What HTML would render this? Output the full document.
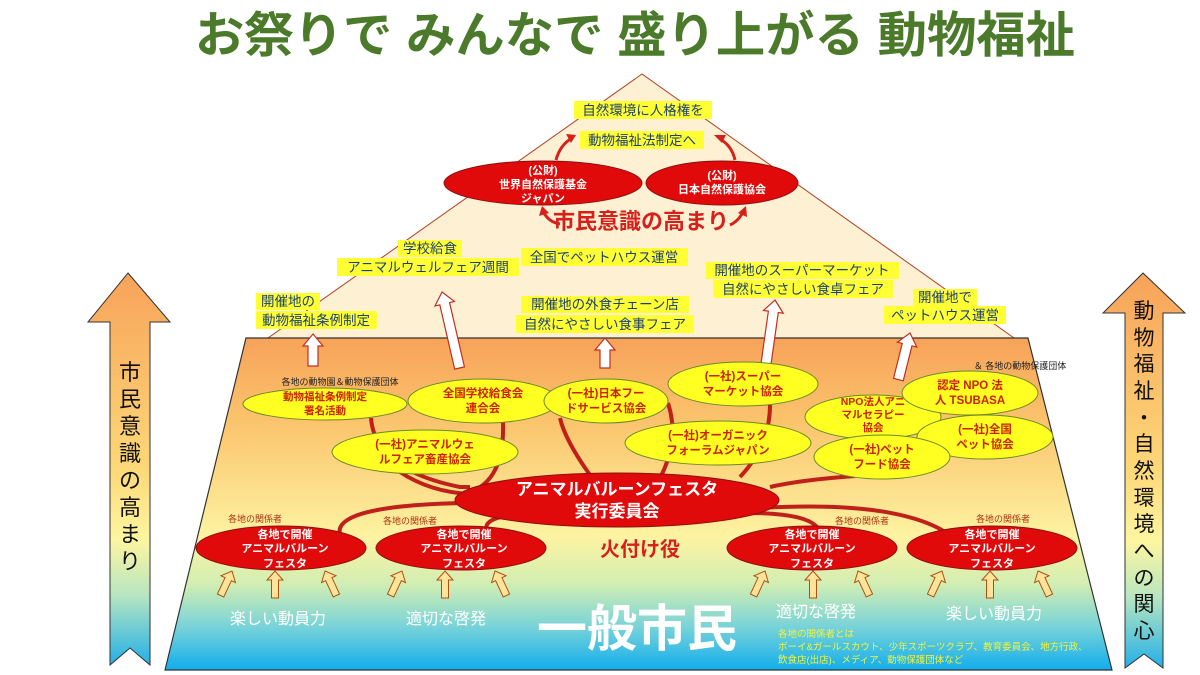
<!DOCTYPE html>
<html><head><meta charset="utf-8"><style>
html,body{margin:0;padding:0;background:#fff;}
svg{display:block;font-family:"Liberation Sans","Noto Sans CJK JP",sans-serif;}
.hl{fill:#ffff33;}
.bt{fill:#1c3f78;font-size:13.5px;}
.yt{fill:#cc2200;font-size:11.5px;font-weight:bold;}
.wt{fill:#fff;font-size:11px;font-weight:bold;}
.sm{fill:#222;font-size:9px;}
.sr{fill:#aa3311;font-size:9px;}
</style></head><body>
<svg width="1200" height="675" viewBox="0 0 1200 675" xmlns="http://www.w3.org/2000/svg">
<defs>
<linearGradient id="tg" x1="0" y1="338" x2="0" y2="670" gradientUnits="userSpaceOnUse">
<stop offset="0" stop-color="#f7a25a"/><stop offset="0.25" stop-color="#fbc36c"/>
<stop offset="0.6" stop-color="#fdf3a2"/><stop offset="0.74" stop-color="#d2eeb2"/>
<stop offset="0.87" stop-color="#78d3d8"/><stop offset="1" stop-color="#12aded"/></linearGradient>
<linearGradient id="ag" x1="0" y1="0" x2="0" y2="1">
<stop offset="0" stop-color="#f7a25a"/><stop offset="0.5" stop-color="#fdd878"/>
<stop offset="0.68" stop-color="#fdf6a0"/><stop offset="0.82" stop-color="#b8e6c0"/>
<stop offset="1" stop-color="#22b0e8"/></linearGradient>
</defs>
<text x="635" y="52" text-anchor="middle" font-size="49" font-weight="bold" fill="#4b7a2b" textLength="880" lengthAdjust="spacingAndGlyphs">お祭りで みんなで 盛り上がる 動物福祉</text>

<!-- triangle -->
<path d="M642,74 L268,338 L1014,338 Z" fill="#fdf0d3" stroke="#b04020" stroke-width="1"/>
<!-- trapezoid -->
<path d="M246,338 L1028,338 L1112,670 L165,670 Z" fill="url(#tg)" stroke="#333" stroke-width="1.2"/>

<!-- side arrows -->
<path d="M128,273 L170,322 L150,322 L150,665 L130,648 L110,665 L110,322 L88,322 Z" fill="url(#ag)" stroke="#333" stroke-width="1"/>
<g font-size="22" fill="#111" text-anchor="middle">
<text x="130" y="380">市</text><text x="130" y="407">民</text><text x="130" y="434">意</text><text x="130" y="461">識</text><text x="130" y="488">の</text><text x="130" y="515">高</text><text x="130" y="542">ま</text><text x="130" y="569">り</text>
</g>
<path d="M1143,273 L1185,313 L1163,313 L1163,668 L1144,654 L1125,668 L1125,313 L1103,313 Z" fill="url(#ag)" stroke="#333" stroke-width="1"/>
<g font-size="21" fill="#111" text-anchor="middle">
<text x="1144" y="318">動</text><text x="1144" y="345">物</text><text x="1144" y="371">福</text><text x="1144" y="398">祉</text><text x="1144" y="425">・</text><text x="1144" y="451">自</text><text x="1144" y="478">然</text><text x="1144" y="505">環</text><text x="1144" y="531">境</text><text x="1144" y="558">へ</text><text x="1144" y="585">の</text><text x="1144" y="611">関</text><text x="1144" y="638">心</text>
</g>

<!-- top labels -->
<rect x="574" y="101" width="138" height="18" class="hl"/>
<text x="643" y="115" class="bt" text-anchor="middle">自然環境に人格権を</text>
<rect x="580" y="131" width="124" height="18" class="hl"/>
<text x="642" y="145" class="bt" text-anchor="middle">動物福祉法制定へ</text>
<path d="M556,160 Q560,145 572,138" fill="none" stroke="#d8201a" stroke-width="3"/><path d="M566,134 L576,135 L571,143 Z" fill="#d8201a"/>
<path d="M735,160 Q732,146 720,139" fill="none" stroke="#d8201a" stroke-width="3"/><path d="M714,135 L726,135 L722,143 Z" fill="#d8201a"/>
<ellipse cx="543" cy="183" rx="99" ry="22" fill="#e00a0a" stroke="#8a1010" stroke-width="1"/>
<text x="543" y="174" class="wt" text-anchor="middle">(公財)</text>
<text x="543" y="188" class="wt" text-anchor="middle">世界自然保護基金</text>
<text x="543" y="202" class="wt" text-anchor="middle">ジャパン</text>
<ellipse cx="722" cy="183" rx="76" ry="22" fill="#e00a0a" stroke="#8a1010" stroke-width="1"/>
<text x="722" y="179" class="wt" text-anchor="middle">(公財)</text>
<text x="722" y="193" class="wt" text-anchor="middle">日本自然保護協会</text>
<text x="641" y="229" font-size="22" font-weight="bold" fill="#d8201a" text-anchor="middle">市民意識の高まり</text>
<path d="M543,211 Q548,222 560,224" fill="none" stroke="#d8201a" stroke-width="3"/><path d="M539,216 L542,206 L549,213 Z" fill="#d8201a"/>
<path d="M730,225 Q737,222 742,214" fill="none" stroke="#d8201a" stroke-width="3"/><path d="M738,213 L746,206 L747,217 Z" fill="#d8201a"/>

<rect x="398" y="240" width="64" height="17" class="hl"/>
<text x="430" y="253" class="bt" text-anchor="middle">学校給食</text>
<rect x="337" y="258" width="182" height="18" class="hl"/>
<text x="428" y="272" class="bt" text-anchor="middle">アニマルウェルフェア週間</text>
<rect x="521" y="248" width="167" height="18" class="hl"/>
<text x="604" y="262" class="bt" text-anchor="middle">全国でペットハウス運営</text>
<rect x="256" y="293" width="64" height="17" class="hl"/>
<text x="288" y="306" class="bt" text-anchor="middle">開催地の</text>
<rect x="256" y="311" width="121" height="18" class="hl"/>
<text x="316" y="325" class="bt" text-anchor="middle">動物福祉条例制定</text>
<rect x="521" y="296" width="168" height="17" class="hl"/>
<text x="605" y="309" class="bt" text-anchor="middle">開催地の外食チェーン店</text>
<rect x="516" y="315" width="178" height="18" class="hl"/>
<text x="605" y="329" class="bt" text-anchor="middle">自然にやさしい食事フェア</text>
<rect x="706" y="262" width="193" height="17" class="hl"/>
<text x="802" y="275" class="bt" text-anchor="middle">開催地のスーパーマーケット</text>
<rect x="713" y="280" width="180" height="18" class="hl"/>
<text x="803" y="294" class="bt" text-anchor="middle">自然にやさしい食卓フェア</text>
<rect x="913" y="289" width="64" height="17" class="hl"/>
<text x="945" y="302" class="bt" text-anchor="middle">開催地で</text>
<rect x="884" y="306" width="122" height="18" class="hl"/>
<text x="945" y="320" class="bt" text-anchor="middle">ペットハウス運営</text>

<!-- white arrows -->
<g fill="#fff" stroke="#c03020" stroke-width="1.2">
<path transform="translate(313,334)" d="M0,0 L10,12 L5,12 L5,32 L-5,32 L-5,12 L-10,12 Z"/>
<path transform="translate(442,292) rotate(-13)" d="M0,0 L10,12 L5,12 L5,78 L-5,78 L-5,12 L-10,12 Z"/>
<path transform="translate(605,338)" d="M0,0 L10,12 L5,12 L5,30 L-5,30 L-5,12 L-10,12 Z"/>
<path transform="translate(775,300) rotate(8)" d="M0,0 L10,12 L5,12 L5,68 L-5,68 L-5,12 L-10,12 Z"/>
<path transform="translate(910,333) rotate(14)" d="M0,0 L10,12 L5,12 L5,48 L-5,48 L-5,12 L-10,12 Z"/>
</g>

<!-- connectors -->
<g fill="none" stroke="#c0201a" stroke-width="4">
<path d="M371,418 Q375,470 460,487 L470,487"/>
<path d="M503,422 Q505,480 470,492 Q490,492 515,490"/>
<path d="M400,472 Q430,492 470,494"/>
<path d="M560,418 Q565,440 590,475"/>
<path d="M668,403 Q680,440 660,478"/>
<path d="M770,405 Q770,445 740,477"/>
<path d="M855,476 Q800,480 770,487"/>
<path d="M760,508 Q900,500 950,535"/>
<path d="M520,503 Q330,500 340,535"/>
<path d="M560,513 Q470,512 490,535"/>
<path d="M740,513 Q820,512 820,535"/>
</g>

<!-- yellow ellipses -->
<g fill="#ffff22" stroke="#6a8a2a" stroke-width="1">
<ellipse cx="325" cy="404" rx="82" ry="16"/>
<ellipse cx="483" cy="401" rx="75" ry="22"/>
<ellipse cx="606" cy="401" rx="62" ry="22"/>
<ellipse cx="743" cy="384" rx="75" ry="22"/>
<ellipse cx="425" cy="452" rx="93" ry="22"/>
<ellipse cx="718" cy="443" rx="93" ry="22"/>
<ellipse cx="873" cy="417" rx="68" ry="22"/>
<ellipse cx="985" cy="437" rx="68" ry="22"/>
<ellipse cx="970" cy="393" rx="68" ry="22"/>
<ellipse cx="882" cy="457" rx="68" ry="22"/>
</g>
<text x="340" y="385" class="sm" text-anchor="middle">各地の動物園＆動物保護団体</text>
<text x="1020" y="369" class="sm" text-anchor="middle">＆ 各地の動物保護団体</text>
<g class="yt" text-anchor="middle">
<text x="325" y="400" font-size="10.5">動物福祉条例制定</text><text x="325" y="414" font-size="10.5">署名活動</text>
<text x="483" y="397">全国学校給食会</text><text x="483" y="412">連合会</text>
<text x="606" y="397">(一社)日本フー</text><text x="606" y="412">ドサービス協会</text>
<text x="743" y="380">(一社)スーパー</text><text x="743" y="395">マーケット協会</text>
<text x="425" y="448">(一社)アニマルウェ</text><text x="425" y="463">ルフェア畜産協会</text>
<text x="718" y="439">(一社)オーガニック</text><text x="718" y="454">フォーラムジャパン</text>
<text x="873" y="405" font-size="10.5">NPO法人アニ</text><text x="873" y="418" font-size="10.5">マルセラピー</text><text x="873" y="431" font-size="10.5">協会</text>
<text x="970" y="389">認定 NPO 法</text><text x="970" y="404">人 TSUBASA</text>
<text x="985" y="433">(一社)全国</text><text x="985" y="448">ペット協会</text>
<text x="882" y="453">(一社)ペット</text><text x="882" y="468">フード協会</text>
</g>

<!-- main red -->
<ellipse cx="617" cy="500" rx="162" ry="27" fill="#e00a0a" stroke="#8a1010" stroke-width="1"/>
<text x="617" y="495" font-size="17" font-weight="bold" fill="#fff" text-anchor="middle">アニマルバルーンフェスタ</text>
<text x="617" y="517" font-size="17" font-weight="bold" fill="#fff" text-anchor="middle">実行委員会</text>
<text x="640" y="556" font-size="20" font-weight="bold" fill="#d8201a" text-anchor="middle">火付け役</text>

<!-- bottom red ellipses -->
<g fill="#e00a0a" stroke="#8a1010" stroke-width="1">
<ellipse cx="281" cy="548" rx="85" ry="22"/><ellipse cx="461" cy="548" rx="85" ry="22"/>
<ellipse cx="812" cy="548" rx="85" ry="22"/><ellipse cx="992" cy="548" rx="85" ry="22"/>
</g>
<g class="sr" text-anchor="middle">
<text x="255" y="522">各地の関係者</text><text x="410" y="524">各地の関係者</text>
<text x="862" y="524">各地の関係者</text><text x="1003" y="522">各地の関係者</text>
</g>
<g class="wt" text-anchor="middle">
<text x="285" y="538">各地で開催</text><text x="285" y="552">アニマルバルーン</text><text x="285" y="567">フェスタ</text>
<text x="464" y="538">各地で開催</text><text x="464" y="552">アニマルバルーン</text><text x="464" y="567">フェスタ</text>
<text x="812" y="538">各地で開催</text><text x="812" y="552">アニマルバルーン</text><text x="812" y="567">フェスタ</text>
<text x="992" y="538">各地で開催</text><text x="992" y="552">アニマルバルーン</text><text x="992" y="567">フェスタ</text>
</g>

<!-- small arrows -->
<g fill="#fde49a" stroke="#b05010" stroke-width="1">
<path transform="translate(232,571) rotate(25)" d="M0,0 L8,9 L3.5,9 L3.5,27 L-3.5,27 L-3.5,9 L-8,9 Z"/>
<path transform="translate(275,571)" d="M0,0 L8,9 L3.5,9 L3.5,27 L-3.5,27 L-3.5,9 L-8,9 Z"/>
<path transform="translate(325,571) rotate(-25)" d="M0,0 L8,9 L3.5,9 L3.5,27 L-3.5,27 L-3.5,9 L-8,9 Z"/>
<path transform="translate(402,571) rotate(25)" d="M0,0 L8,9 L3.5,9 L3.5,27 L-3.5,27 L-3.5,9 L-8,9 Z"/>
<path transform="translate(445,571)" d="M0,0 L8,9 L3.5,9 L3.5,27 L-3.5,27 L-3.5,9 L-8,9 Z"/>
<path transform="translate(495,571) rotate(-25)" d="M0,0 L8,9 L3.5,9 L3.5,27 L-3.5,27 L-3.5,9 L-8,9 Z"/>
<path transform="translate(765,571) rotate(25)" d="M0,0 L8,9 L3.5,9 L3.5,27 L-3.5,27 L-3.5,9 L-8,9 Z"/>
<path transform="translate(813,571)" d="M0,0 L8,9 L3.5,9 L3.5,27 L-3.5,27 L-3.5,9 L-8,9 Z"/>
<path transform="translate(858,571) rotate(-25)" d="M0,0 L8,9 L3.5,9 L3.5,27 L-3.5,27 L-3.5,9 L-8,9 Z"/>
<path transform="translate(942,571) rotate(25)" d="M0,0 L8,9 L3.5,9 L3.5,27 L-3.5,27 L-3.5,9 L-8,9 Z"/>
<path transform="translate(990,571)" d="M0,0 L8,9 L3.5,9 L3.5,27 L-3.5,27 L-3.5,9 L-8,9 Z"/>
<path transform="translate(1038,571) rotate(-25)" d="M0,0 L8,9 L3.5,9 L3.5,27 L-3.5,27 L-3.5,9 L-8,9 Z"/>
</g>

<!-- bottom texts -->
<g fill="#fff" font-size="16" text-anchor="middle">
<text x="278" y="624">楽しい動員力</text><text x="446" y="624">適切な啓発</text>
<text x="816" y="617">適切な啓発</text><text x="994" y="619">楽しい動員力</text>
</g>
<text x="637" y="646" font-size="50" font-weight="bold" fill="#fff" text-anchor="middle">一般市民</text>
<g fill="#f4f43a" font-size="9.5">
<text x="778" y="637">各地の関係者とは</text>
<text x="778" y="650">ボーイ&amp;ガールスカウト、少年スポーツクラブ、教育委員会、地方行政、</text>
<text x="778" y="663">飲食店(出店)、メディア、動物保護団体など</text>
</g>
</svg>
</body></html>
